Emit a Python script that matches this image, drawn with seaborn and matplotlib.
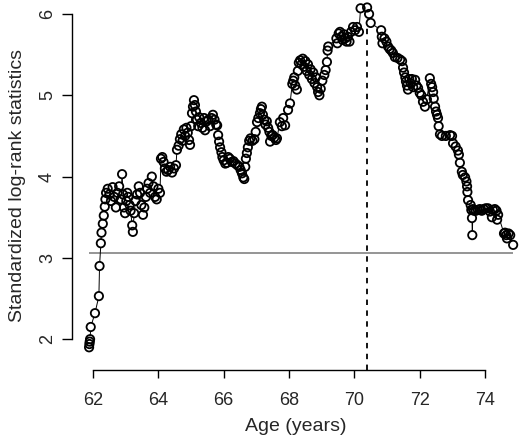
import numpy as np
import pandas as pd
import seaborn as sns
import matplotlib
matplotlib.use("Agg")
import matplotlib.pyplot as plt

# === Data: age vs standardized log-rank statistic ===
age = [
    61.88, 61.89, 61.90, 61.91, 61.93, 62.06, 62.18, 62.20, 62.24, 62.26,
    62.30, 62.33, 62.36, 62.38, 62.40, 62.45, 62.50, 62.55, 62.60, 62.65,
    62.70, 62.75, 62.80, 62.85, 62.89, 62.92, 62.95, 62.98, 63.02, 63.05,
    63.08, 63.12, 63.15, 63.20, 63.22, 63.26, 63.30, 63.35, 63.40, 63.44,
    63.48, 63.53, 63.57, 63.62, 63.66, 63.70, 63.75, 63.80, 63.85, 63.90,
    63.95, 64.00, 64.05, 64.08, 64.12, 64.16, 64.20, 64.25, 64.30, 64.36,
    64.42, 64.48, 64.54, 64.57, 64.62, 64.66, 64.70, 64.74, 64.78, 64.82,
    64.86, 64.90, 64.94, 64.97, 65.00, 65.03, 65.06, 65.09, 65.12, 65.15,
    65.18, 65.22, 65.25, 65.30, 65.35, 65.40, 65.43, 65.48, 65.53, 65.58,
    65.63, 65.67, 65.72, 65.77, 65.80, 65.83, 65.86, 65.89, 65.93, 65.96,
    66.00, 66.05, 66.10, 66.14, 66.19, 66.25, 66.30, 66.36, 66.42, 66.48,
    66.52, 66.56, 66.60, 66.63, 66.66, 66.68, 66.71, 66.74, 66.78, 66.82,
    66.88, 66.94, 66.98, 67.02, 67.06, 67.11, 67.14, 67.17, 67.20, 67.24,
    67.28, 67.32, 67.36, 67.40, 67.42, 67.46, 67.50, 67.55, 67.60, 67.63,
    67.72, 67.78, 67.82, 67.88, 67.97, 68.03, 68.10, 68.13, 68.16, 68.19,
    68.24, 68.27, 68.30, 68.34, 68.38, 68.42, 68.46, 68.50, 68.54, 68.58,
    68.62, 68.66, 68.70, 68.74, 68.78, 68.82, 68.86, 68.89, 68.93, 68.97,
    69.02, 69.08, 69.12, 69.16, 69.18, 69.20, 69.45, 69.48, 69.52, 69.56,
    69.60, 69.64, 69.68, 69.72, 69.76, 69.80, 69.85, 69.90, 69.96, 70.02,
    70.08, 70.14, 70.19, 70.39, 70.45, 70.50, 70.82, 70.84, 70.86, 70.92,
    70.98, 71.03, 71.08, 71.13, 71.18, 71.24, 71.32, 71.40, 71.46, 71.49,
    71.52, 71.56, 71.58, 71.61, 71.64, 71.68, 71.72, 71.76, 71.80, 71.86,
    71.90, 71.95, 72.00, 72.05, 72.10, 72.16, 72.22, 72.31, 72.35, 72.38,
    72.41, 72.43, 72.47, 72.50, 72.53, 72.56, 72.58, 72.62, 72.68, 72.80,
    72.93, 72.99, 73.02, 73.10, 73.17, 73.20, 73.23, 73.29, 73.32, 73.39,
    73.43, 73.45, 73.46, 73.48, 73.56, 73.58, 73.60, 73.61, 73.63, 73.66,
    73.72, 73.78, 73.84, 73.90, 73.96, 74.02, 74.09, 74.15, 74.21, 74.24,
    74.30, 74.35, 74.37, 74.40, 74.58, 74.61, 74.65, 74.67, 74.72, 74.77,
    74.86,
]
stat = [
    1.90, 1.94, 1.97, 2.00, 2.15, 2.32, 2.53, 2.90, 3.18, 3.31,
    3.42, 3.52, 3.63, 3.72, 3.80, 3.85, 3.78, 3.70, 3.87, 3.75,
    3.62, 3.80, 3.88, 3.72, 4.03, 3.78, 3.62, 3.55, 3.70, 3.80,
    3.75, 3.65, 3.58, 3.40, 3.32, 3.55, 3.70, 3.78, 3.88, 3.80,
    3.65, 3.53, 3.62, 3.75, 3.85, 3.92, 3.80, 4.00, 3.88, 3.75,
    3.72, 3.85, 3.80, 4.22, 4.24, 4.18, 4.10, 4.06, 4.08, 4.12,
    4.05, 4.10, 4.14, 4.33, 4.38, 4.46, 4.52, 4.44, 4.58, 4.50,
    4.60, 4.54, 4.45, 4.39, 4.62, 4.78, 4.86, 4.94, 4.88, 4.80,
    4.70, 4.62, 4.73, 4.66, 4.60, 4.72, 4.57, 4.68, 4.70, 4.62,
    4.72, 4.76, 4.70, 4.64, 4.63, 4.51, 4.43, 4.36, 4.30, 4.24,
    4.20, 4.16, 4.17, 4.24, 4.22, 4.18, 4.19, 4.16, 4.14, 4.12,
    4.08, 4.04, 3.99, 3.97, 4.12, 4.22, 4.29, 4.36, 4.44, 4.47,
    4.44, 4.46, 4.55, 4.67, 4.72, 4.78, 4.83, 4.86, 4.76, 4.70,
    4.64, 4.68, 4.60, 4.55, 4.43, 4.50, 4.51, 4.48, 4.45, 4.47,
    4.67, 4.62, 4.72, 4.63, 4.82, 4.90, 5.14, 5.18, 5.22, 5.12,
    5.07, 5.30, 5.40, 5.43, 5.38, 5.45, 5.35, 5.42, 5.30, 5.38,
    5.25, 5.32, 5.20, 5.28, 5.15, 5.22, 5.10, 5.04, 5.00, 5.08,
    5.18, 5.25, 5.31, 5.41, 5.55, 5.60, 5.70, 5.64, 5.76, 5.78,
    5.72, 5.68, 5.75, 5.70, 5.66, 5.72, 5.66, 5.78, 5.84, 5.80,
    5.84, 5.78, 6.07, 6.08, 6.00, 5.89, 5.80, 5.72, 5.64, 5.70,
    5.66, 5.60, 5.57, 5.55, 5.52, 5.47, 5.46, 5.44, 5.42, 5.34,
    5.28, 5.22, 5.17, 5.12, 5.07, 5.20, 5.15, 5.20, 5.10, 5.19,
    5.12, 5.09, 5.03, 5.00, 4.92, 4.86, 4.95, 5.21, 5.14, 5.10,
    5.04, 4.96, 4.86, 4.80, 4.76, 4.72, 4.62, 4.52, 4.50, 4.50,
    4.51, 4.50, 4.41, 4.37, 4.32, 4.27, 4.17, 4.06, 4.02, 3.99,
    3.94, 3.88, 3.81, 3.71, 3.65, 3.59, 3.49, 3.28, 3.60, 3.58,
    3.58, 3.59, 3.60, 3.58, 3.60, 3.61, 3.61, 3.57, 3.50, 3.59,
    3.60, 3.58, 3.47, 3.53, 3.30, 3.31, 3.28, 3.24, 3.30, 3.28,
    3.16,
]
y_ticks = [2, 3, 4, 5, 6]
x_ticks = [62, 64, 66, 68, 70, 72, 74]
threshold = 3.06
change_age = 70.4
change_top = 5.86

df = pd.DataFrame({"age": age, "stat": stat})

sns.set_style("white")
plt.rcParams["font.family"] = ["Liberation Sans", "DejaVu Sans"]

fig = plt.figure(figsize=(5.2, 4.42), dpi=100)
ax = fig.add_axes([72 / 520, 72 / 442, 1 - 72 / 520, 1 - 72 / 442])

# connecting line (R type="b"), hidden inside the circles
sns.lineplot(data=df, x="age", y="stat", sort=False, estimator=None,
             color="black", lw=0.7, ax=ax, zorder=1)
sns.scatterplot(data=df, x="age", y="stat", s=36, color="white",
                edgecolor="none", ax=ax, zorder=2)
sns.scatterplot(data=df, x="age", y="stat", s=36, facecolors="none",
                edgecolor="black", linewidth=1.3, ax=ax, zorder=3)

ax.hlines(threshold, min(age), max(age), color="#8c8c8c", lw=1.3, zorder=0)
ax.vlines(change_age, 1.62, change_top, color="black", lw=1.3,
          linestyles=(0, (3, 3)), zorder=4)

ax.set_xlim(61.357, 75.07)
ax.set_ylim(1.621, 6.172)

for side in ["top", "right"]:
    ax.spines[side].set_visible(False)
ax.spines["bottom"].set_bounds(62, 74)
ax.spines["left"].set_bounds(2, 6)
for side in ["bottom", "left"]:
    ax.spines[side].set_color("black")
    ax.spines[side].set_linewidth(1.0)

ax.set_xticks(x_ticks)
ax.set_yticks(y_ticks)
ax.tick_params(axis="x", direction="out", length=6, width=1.0,
               labelsize=13, pad=10, bottom=True, color="black")
ax.tick_params(axis="y", direction="out", length=7, width=1.0,
               labelleft=False, left=True, color="black")

# R-style rotated y tick labels
for v in y_ticks:
    ax.text(-0.055, v, str(v), transform=ax.get_yaxis_transform(),
            rotation=90, ha="center", va="center", fontsize=13)

ax.set_xlabel("Age (years)", fontsize=14, labelpad=6)
ax.set_ylabel("Standardized log-rank statistics", fontsize=14)
ax.yaxis.set_label_coords(-0.103, 0.5)

fig.savefig("out.png", dpi=100)
